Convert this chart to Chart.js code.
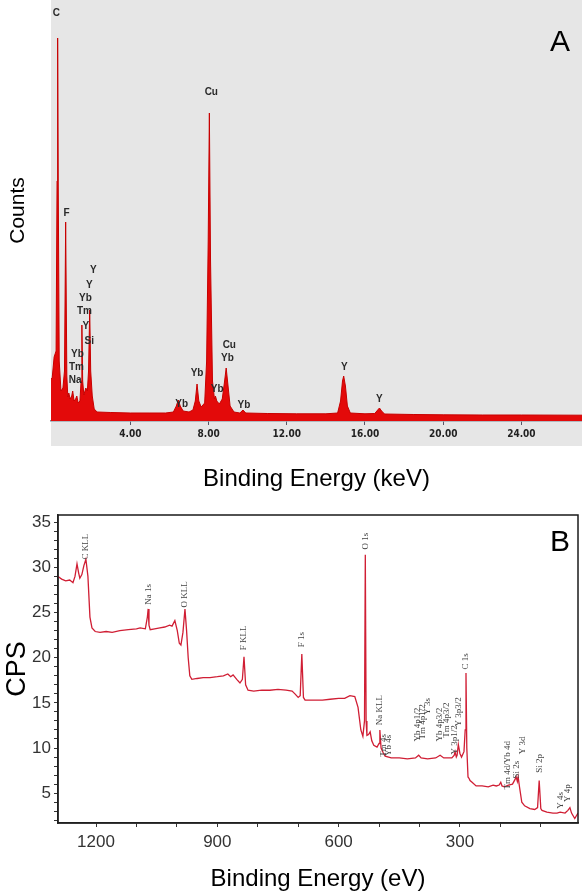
<!DOCTYPE html>
<html>
<head>
<meta charset="utf-8">
<script src="https://cdn.jsdelivr.net/npm/chart.js@4.4.0/dist/chart.umd.min.js"></script>
<style>
body{margin:0;background:#fff;width:582px;height:896px;overflow:hidden;}
#cajaA{position:absolute;left:0;top:0;width:582px;height:500px;}
#cajaB{position:absolute;left:0;top:500px;width:582px;height:396px;}
</style>
</head>
<body>
<div id="cajaA"><canvas id="grafica-eds"></canvas></div>
<div id="cajaB"><canvas id="grafica-xps"></canvas></div>
<script>
// --- panel A: EDS spectrum (keV, counts) ---
var edsEnergia=[-0.06,0.0,0.1,0.2,0.25,0.28,0.31,0.36,0.45,0.55,0.63,0.69,0.75,0.8,0.85,0.92,1.0,1.05,1.12,1.2,1.26,1.33,1.42,1.48,1.52,1.56,1.62,1.72,1.8,1.86,1.92,1.97,2.05,2.15,2.3,3.0,4.0,5.0,5.8,6.2,6.35,6.45,6.55,6.7,7.0,7.2,7.32,7.41,7.5,7.62,7.8,7.9,7.98,8.04,8.1,8.2,8.3,8.35,8.42,8.55,8.7,8.82,8.9,8.98,9.1,9.3,9.6,9.76,9.9,11.0,12.5,14.0,14.6,14.75,14.85,14.91,15.0,15.1,15.25,16.0,16.5,16.65,16.74,16.85,17.0,18.5,20.0,22.0,24.0,27.1];
var edsCuentas=[420,430,640,700,2400,3830,2400,600,300,330,500,1990,450,240,280,220,250,300,200,220,250,180,200,400,960,400,260,330,300,500,1110,500,250,120,90,85,80,80,80,90,150,210,150,100,90,110,200,370,200,140,180,600,1800,3080,1600,400,220,250,200,170,220,400,530,380,150,90,80,110,80,75,72,72,80,200,400,450,350,150,80,72,75,110,130,100,70,65,62,60,60,58];
var edsTicks=[4,8,12,16,20,24];
var edsEtiquetas=["C","Cu","F","Y","Y","Yb","Tm","Y","Si","Yb","Tm","Na","Yb","Yb","Cu","Yb","Yb","Yb","Y","Y"];
var edsEtiquetaX=[0.21,8.14,0.73,2.11,1.9,1.7,1.65,1.72,1.9,1.29,1.24,1.17,6.62,7.41,9.06,8.96,8.44,9.81,14.95,16.74];
var edsEtiquetaY=[4080,3290,2080,1510,1360,1230,1100,950,800,670,540,410,170,480,760,630,320,160,540,220];

// --- panel B: XPS survey (eV, CPS) ---
var xpsEnergia=[1294,1285,1275,1265,1257,1252,1247,1243,1240,1235,1230,1225,1220,1215,1210,1202,1190,1175,1160,1141,1120,1100,1091,1078,1073,1071,1069,1066,1055,1042,1030,1018,1012,1005,999,994,990,985,980,976,972,968,963,950,935,918,900,885,874,867,861,852,844,838,834,830,824,810,790,770,750,730,715,708,700,695,691,687,683,660,640,621,600,585,572,560,552,545,540,536,534,532,530,526,522,518,513,505,500,498,495,490,485,470,450,430,410,402,396,380,360,349,340,320,314,312,309,307,304,300,296,290,287,285,283,280,277,275,270,260,245,230,218,210,203,199,196,190,180,170,164,161,158,156,153,147,140,127,115,108,104,100,97,85,70,60,52,40,33,28,24,16,8];
var xpsCPS=[29.0,28.7,28.5,28.6,28.3,29.0,30.4,29.4,28.8,29.2,30.2,30.9,29.0,24.5,23.3,22.9,22.8,22.9,22.8,23.0,23.1,23.2,23.3,23.2,24.5,25.4,23.6,23.1,23.2,23.3,23.4,23.6,23.5,24.1,23.0,21.6,21.4,22.8,25.4,23.0,20.0,18.0,17.6,17.7,17.8,17.8,17.9,18.0,18.2,17.9,18.1,17.6,17.2,17.6,20.1,17.0,16.4,16.3,16.4,16.4,16.5,16.4,16.3,16.0,15.6,15.8,20.4,15.6,15.3,15.3,15.3,15.4,15.5,15.5,15.8,15.7,14.5,12.0,11.3,13.0,31.4,13.0,11.4,11.5,11.8,10.8,10.3,10.1,10.5,12.0,10.0,9.5,9.1,8.9,8.9,8.8,8.9,9.2,8.9,8.8,8.9,9.2,8.9,8.9,9.2,9.6,9.0,9.2,10.4,9.4,9.0,9.6,12.0,18.3,10.0,6.8,6.6,6.4,6.2,5.8,5.8,5.7,5.9,5.8,5.9,6.2,5.8,5.7,5.9,6.0,6.5,6.8,6.3,6.8,5.8,4.0,3.6,3.3,3.2,3.4,6.4,3.3,3.1,2.9,2.8,2.8,2.9,2.8,3.1,3.4,2.8,2.2,2.8];
var xpsMarcasX=[100,200,300,400,500,600,700,800,900,1000,1100,1200];
var xpsMarcasY=[2,3,4,5,6,7,8,9,10,11,12,13,14,15,16,17,18,19,20,21,22,23,24,25,26,27,28,29,30,31,32,33,34,35];
var xpsEtiquetas=["C KLL","Na 1s","O KLL","F KLL","F 1s","O 1s","Na KLL","Tm 4s","Yb 4s","Yb 4p1/2","Tm 4p1/2","Y 3s","Yb 4p3/2","Tm 4p3/2","Y 3p1/2","Y 3p3/2","C 1s","Tm 4d/Yb 4d","Si 2s","Y 3d","Si 2p","Y 4s","Y 4p"];
var xpsEtiquetaX=[1225,1071,980,834,691,532,498,488,476,404,391,379,349,334,312,302,285,181,159,146,104,52,33];
var xpsEtiquetaY=[32.3,27.0,27.0,22.2,22.0,32.9,14.2,10.3,10.3,12.6,12.9,14.6,12.6,13.1,10.9,14.0,19.6,8.1,7.6,10.3,8.3,4.2,5.0];

Chart.defaults.font.family='"Liberation Sans", Arial, sans-serif';
Chart.defaults.color='#222';

var puntosEds=edsEnergia.map(function(e,i){return {x:e,y:edsCuentas[i]};});
var puntosXps=xpsEnergia.map(function(e,i){return {x:e,y:xpsCPS[i]};});

var fondoEds={
  id:'fondoEds',
  beforeDraw:function(chart){
    var c=chart.ctx,a=chart.chartArea;
    c.save();
    c.fillStyle='#e6e6e6';
    c.fillRect(a.left,0,a.right-a.left,a.bottom+25);
    c.restore();
  },
  afterDatasetsDraw:function(chart){
    var c=chart.ctx,sx=chart.scales.x,sy=chart.scales.y;
    c.save();
    c.fillStyle='#2a2a2a';
    c.font='bold 10px "Liberation Sans", Arial, sans-serif';
    c.textAlign='center';
    c.textBaseline='middle';
    for(var i=0;i<edsEtiquetas.length;i++){
      c.fillText(edsEtiquetas[i],sx.getPixelForValue(edsEtiquetaX[i]),sy.getPixelForValue(edsEtiquetaY[i]));
    }
    c.fillStyle='#000';
    c.font='30px "Liberation Sans", Arial, sans-serif';
    c.fillText('A',chart.chartArea.right-22,43);
    c.restore();
  }
};

var graficaEds=new Chart(document.getElementById("grafica-eds"),{
  type:"line",
  data:{
    datasets:[{
      label:"EDS",
      data:puntosEds,
      borderColor:'#c80000',
      borderWidth:1,
      backgroundColor:'#e30a0a',
      fill:'origin',
      pointRadius:0,
      tension:0
    }]
  },
  options:{
    responsive:true,
    maintainAspectRatio:false,
    animation:false,
    layout:{padding:0},
    plugins:{legend:{display:false},tooltip:{enabled:false}},
    scales:{
      x:{
        type:'linear',
        min:-0.06,
        max:27.1,
        afterBuildTicks:function(s){s.ticks=edsTicks.map(function(v){return {value:v};});},
        afterFit:function(s){s.height=79;},
        border:{display:true,color:'#7d8b99',width:1.5},
        grid:{display:true,drawOnChartArea:false,tickLength:4,tickColor:'#556'},
        ticks:{
          padding:3,
          color:'#222',
          font:{family:'"DejaVu Sans Condensed", "Liberation Sans Narrow", Arial',size:10,weight:'bold'},
          maxRotation:0,
          callback:function(v){return Number(v).toFixed(2);}
        },
        title:{display:true,text:'Binding Energy (keV)',color:'#000',font:{size:24},padding:{top:0,bottom:6}}
      },
      y:{
        min:0,
        max:4210,
        afterFit:function(s){s.width=51;},
        border:{display:false},
        grid:{display:false},
        ticks:{display:false},
        title:{display:true,text:'Counts',color:'#000',font:{size:21},padding:{top:6,bottom:0}}
      }
    }
  },
  plugins:[fondoEds]
});

var marcoXps={
  id:'marcoXps',
  afterDraw:function(chart){
    var c=chart.ctx,a=chart.chartArea,sx=chart.scales.x,sy=chart.scales.y;
    c.save();
    c.strokeStyle='#1a1a1a';
    c.lineWidth=1.5;
    c.strokeRect(a.left,a.top,a.right-a.left,a.bottom-a.top);
    c.fillStyle='#444';
    c.font='9px "Liberation Serif", "Times New Roman", serif';
    c.textAlign='center';
    c.textBaseline='middle';
    for(var i=0;i<xpsEtiquetas.length;i++){
      c.save();
      c.translate(sx.getPixelForValue(xpsEtiquetaX[i]),sy.getPixelForValue(xpsEtiquetaY[i]));
      c.rotate(-Math.PI/2);
      c.fillText(xpsEtiquetas[i],0,0);
      c.restore();
    }
    c.fillStyle='#000';
    c.font='30px "Liberation Sans", Arial, sans-serif';
    c.fillText('B',a.right-18,43);
    c.restore();
  }
};

var graficaXps=new Chart(document.getElementById("grafica-xps"),{
  type:"line",
  data:{
    datasets:[{
      label:"XPS",
      data:puntosXps,
      borderColor:'#d01e34',
      borderWidth:1.3,
      fill:false,
      pointRadius:0,
      tension:0
    }]
  },
  options:{
    responsive:true,
    maintainAspectRatio:false,
    animation:false,
    layout:{padding:{top:15,right:4,left:0,bottom:0}},
    plugins:{legend:{display:false},tooltip:{enabled:false}},
    scales:{
      x:{
        type:'linear',
        reverse:true,
        min:8,
        max:1294,
        afterBuildTicks:function(s){s.ticks=xpsMarcasX.map(function(v){return {value:v};});},
        afterFit:function(s){s.height=73;},
        border:{display:true,color:'#333',width:1.5},
        grid:{display:true,drawOnChartArea:false,tickLength:4,tickColor:'#333'},
        ticks:{
          padding:5,
          color:'#333',
          maxRotation:0,
          autoSkip:false,
          font:{size:17},
          callback:function(v){return v%300===0?String(v):'';}
        },
        title:{display:true,text:'Binding Energy (eV)',color:'#000',font:{size:24},padding:{top:0,bottom:2}}
      },
      y:{
        min:1.7,
        max:35.8,
        afterBuildTicks:function(s){s.ticks=xpsMarcasY.map(function(v){return {value:v};});},
        afterFit:function(s){s.width=58;},
        border:{display:true,color:'#333',width:1.5},
        grid:{display:true,drawOnChartArea:false,tickLength:4,tickColor:'#333'},
        ticks:{
          padding:3,
          color:'#333',
          autoSkip:false,
          font:{size:17},
          callback:function(v){return v%5===0?String(v):'';}
        },
        title:{display:true,text:'CPS',color:'#000',font:{size:27},padding:{top:1,bottom:0}}
      }
    }
  },
  plugins:[marcoXps]
});
</script>
</body>
</html>
